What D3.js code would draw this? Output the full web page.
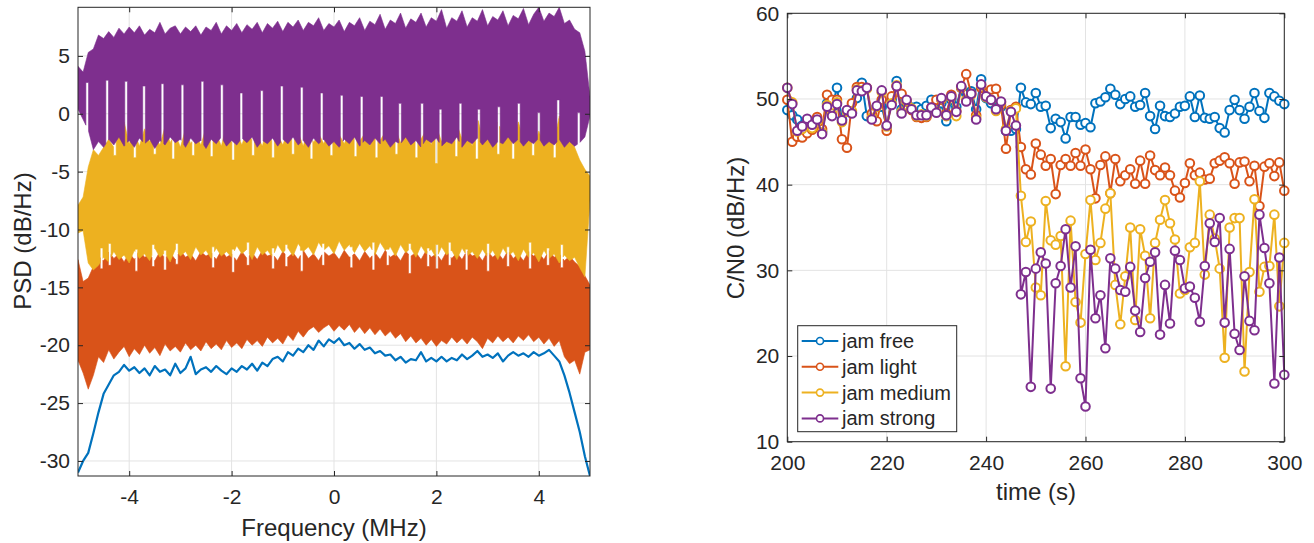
<!DOCTYPE html>
<html>
<head>
<meta charset="utf-8">
<title>PSD and C/N0</title>
<script src="https://d3js.org/d3.v7.min.js"></script>
<style>
body { margin: 0; background: #fff; }
text { font-family: "Liberation Sans", Arial, Helvetica, sans-serif; fill: #262626; }
</style>
</head>
<body>
<script>
// ---------- left panel: PSD, sampled every 0.1 MHz from -5 to 5 ----------
var freqStart = -5, freqStep = 0.1;
var freq = d3.range(101).map(i => +(freqStart + i * freqStep).toFixed(2));

var psdFree = [-31.0,-30.0,-29.3,-27.6,-25.8,-24.2,-23.4,-22.6,-22.3,-21.7,
  -22.2,-21.9,-22.4,-22.0,-22.6,-21.8,-22.3,-22.1,-22.6,-21.6,
  -22.4,-22.0,-21.0,-22.5,-22.1,-21.9,-22.3,-21.8,-22.2,-22.5,
  -22.0,-22.3,-21.8,-22.1,-21.6,-22.2,-21.5,-21.8,-21.2,-21.0,
  -21.4,-20.6,-20.9,-20.3,-20.6,-20.0,-20.4,-19.6,-20.1,-19.5,
  -19.8,-19.4,-20.0,-19.8,-20.3,-19.9,-20.4,-20.2,-20.7,-20.5,
  -20.9,-20.8,-21.3,-21.0,-21.5,-21.2,-21.3,-20.6,-21.4,-21.1,
  -21.4,-21.0,-21.4,-21.1,-21.3,-20.8,-21.2,-20.9,-20.5,-21.0,
  -20.8,-21.1,-20.7,-21.4,-20.9,-20.6,-20.9,-20.7,-21.0,-20.6,
  -20.9,-20.7,-20.4,-20.9,-21.4,-22.6,-24.1,-25.8,-27.5,-29.6,-31.3];

var lightHi = [-12.6,-14.5,-14.2,-13.2,-12.3,-12.7,-11.9,-12.5,-12.1,-12.8,
  -12.0,-12.6,-11.8,-12.4,-12.2,-12.7,-11.9,-12.5,-12.0,-12.6,
  -11.8,-12.4,-12.1,-12.7,-11.9,-12.3,-12.0,-12.6,-11.8,-12.4,
  -12.1,-12.7,-11.9,-12.5,-12.0,-12.6,-11.8,-12.3,-12.1,-12.7,
  -11.9,-12.4,-12.0,-12.6,-11.8,-12.5,-12.1,-12.7,-11.9,-12.3,
  -12.0,-12.6,-11.8,-12.4,-12.1,-12.7,-11.9,-12.5,-12.0,-12.6,
  -11.8,-12.4,-12.1,-12.7,-11.9,-12.3,-12.0,-12.6,-11.8,-12.4,
  -12.1,-12.7,-11.9,-12.5,-12.0,-12.6,-11.8,-12.3,-12.1,-12.7,
  -11.9,-12.4,-12.0,-12.6,-11.8,-12.5,-12.1,-12.7,-11.9,-12.3,
  -12.0,-12.6,-11.8,-12.4,-12.1,-12.7,-12.3,-12.8,-13.2,-14.0,-14.8];
var lightLo = [-21.3,-22.4,-23.8,-22.6,-21.0,-21.5,-20.4,-21.2,-20.6,-20.1,
  -21.0,-20.3,-20.8,-20.0,-20.7,-20.2,-20.9,-19.9,-20.5,-20.1,
  -20.6,-19.8,-20.4,-20.0,-20.5,-19.7,-20.3,-19.9,-20.4,-19.6,
  -20.2,-19.8,-20.3,-19.5,-20.0,-19.6,-20.1,-19.3,-19.8,-19.4,
  -19.9,-19.1,-19.6,-18.8,-19.3,-18.7,-18.4,-18.9,-18.5,-18.2,
  -18.8,-18.3,-18.7,-18.2,-18.9,-18.4,-19.0,-18.5,-19.1,-18.6,
  -19.2,-18.8,-19.4,-19.0,-19.7,-19.2,-19.8,-19.4,-20.0,-19.5,
  -20.1,-19.6,-19.9,-19.3,-19.8,-19.4,-19.9,-19.3,-19.7,-20.3,
  -19.4,-19.8,-19.2,-19.7,-19.3,-19.8,-19.2,-19.6,-19.1,-19.7,
  -19.3,-19.9,-19.4,-20.1,-19.6,-21.0,-21.6,-21.3,-22.5,-20.6,-20.4];

var mediumHi = [-7.9,-7.2,-4.6,-3.1,-3.6,-2.9,-2.2,-2.9,-1.5,-0.7,
  -2.6,-1.6,-2.8,-1.3,-2.4,-1.9,-2.7,-1.1,-2.5,-1.7,
  -2.9,-1.3,-2.6,-1.8,-2.7,-1.2,-2.3,-1.7,-2.8,-1.0,
  -2.5,-1.6,-2.7,-1.4,-2.3,-1.9,-2.8,-1.1,-2.6,-1.8,
  -2.7,-1.5,-2.4,-1.6,-2.8,-1.2,-2.5,-1.7,-2.6,-1.4,
  -2.3,-1.8,-2.6,-1.5,-0.1,-2.4,-1.7,-2.8,-1.0,-2.3,
  -1.6,-2.7,-1.3,-2.5,-1.8,-2.6,-0.1,-2.2,-1.4,-2.7,
  -1.1,-2.4,-1.7,-2.6,-0.9,-2.2,-1.5,-2.8,-0.3,-2.1,
  -1.6,-2.5,-0.4,-2.3,-1.2,-2.7,-0.7,-2.2,-1.6,-2.9,
  -1.5,-2.6,-0.9,-2.4,-0.2,-2.0,-1.9,-2.9,-4.0,-4.8,-5.4];
var mediumLo = [-10.3,-10.1,-12.9,-13.5,-13.1,-12.4,-12.8,-11.9,-12.6,-12.2,
  -12.9,-11.8,-12.5,-12.1,-12.7,-11.6,-12.4,-12.0,-12.8,-11.7,
  -12.3,-11.9,-12.6,-11.5,-12.2,-11.8,-12.5,-11.6,-12.3,-11.9,
  -12.4,-11.4,-12.1,-11.7,-12.6,-11.5,-12.2,-11.8,-12.4,-11.3,
  -12.0,-11.6,-12.3,-11.2,-11.9,-11.5,-12.2,-11.1,-11.8,-11.4,
  -12.1,-11.0,-11.8,-11.3,-12.0,-11.2,-11.9,-11.4,-12.2,-11.1,
  -11.8,-11.5,-12.3,-11.3,-12.0,-11.6,-12.4,-11.4,-12.1,-11.7,
  -12.5,-11.5,-12.2,-11.8,-12.6,-11.6,-12.3,-11.9,-12.5,-11.7,
  -12.4,-11.8,-12.6,-11.6,-12.3,-11.9,-12.7,-11.7,-12.4,-12.0,
  -12.8,-11.8,-12.5,-12.1,-12.9,-12.2,-12.7,-12.4,-13.3,-14.1,-7.5];

var strongHi = [4.1,3.6,5.3,5.6,6.8,6.5,7.1,6.6,7.4,6.9,
  7.5,7.0,7.6,6.8,7.3,7.0,7.9,6.9,7.4,7.6,
  6.9,7.5,7.1,7.6,6.8,7.5,7.2,7.9,6.9,7.6,
  7.2,7.8,7.0,7.7,7.3,7.9,7.0,7.8,7.4,8.0,
  7.1,7.9,7.5,8.1,7.2,7.9,7.6,8.3,7.2,7.8,
  7.5,8.1,7.1,7.9,7.6,8.3,7.2,8.0,7.7,8.6,
  7.3,8.1,7.8,8.7,7.4,8.2,7.9,8.7,7.5,8.3,
  8.0,9.0,7.4,8.3,8.0,8.9,7.5,8.3,8.0,9.0,
  7.6,8.4,8.1,8.9,7.6,8.5,8.2,9.1,7.7,8.6,
  9.2,8.0,8.7,8.4,9.2,7.8,8.1,7.3,7.0,5.4,1.5];
var strongLo = [0.4,-0.5,-1.4,-3.1,-2.4,-2.9,-2.2,-2.7,-2.0,-2.8,
  -2.3,-2.9,-2.1,-2.6,-2.2,-3.0,-2.3,-2.7,-2.0,-2.5,
  -2.2,-2.9,-2.1,-2.6,-2.3,-3.0,-2.2,-2.6,-2.0,-2.8,
  -2.3,-2.7,-2.1,-2.5,-2.0,-2.9,-2.3,-2.6,-2.1,-2.8,
  -2.2,-2.6,-2.0,-2.7,-2.3,-2.9,-2.1,-2.6,-2.2,-2.8,
  -2.4,-2.9,-2.2,-2.6,-2.0,-2.8,-2.3,-2.7,-2.1,-2.6,
  -2.2,-2.9,-2.4,-2.6,-2.0,-2.7,-2.3,-2.9,-2.2,-2.5,
  -2.1,-2.8,-2.4,-2.6,-2.0,-2.9,-2.3,-2.6,-2.1,-2.7,
  -2.2,-2.9,-2.4,-2.6,-2.0,-2.6,-2.2,-2.8,-2.3,-2.6,
  -2.1,-2.8,-2.4,-2.7,-2.2,-2.9,-2.4,-2.8,-2.5,-2.0,-0.2];

// narrow gaps in the bands: [frequency MHz, level dB/Hz]
var strongLoNotches = [[-4.82,2.7],[-4.43,2.9],[-4.06,2.8],[-3.71,2.4],[-3.35,2.6],[-2.96,2.5],
  [-2.57,2.8],[-2.19,2.5],[-1.81,1.8],[-1.41,2.0],[-1.02,2.4],[-0.63,2.3],[-0.24,1.8],
  [0.15,1.6],[0.54,1.5],[0.93,1.5],[1.29,0.9],[1.72,0.9],[2.08,0.4],[2.47,0.9],
  [2.83,0.4],[3.22,0.6],[3.61,0.9],[4.00,0.1],[4.38,1.2],[4.78,0.1]];
var mediumHiNotches = [[-4.28,-3.6],[-3.89,-3.8],[-3.50,-3.5],[-3.14,-3.9],[-2.75,-3.6],
  [-2.39,-3.7],[-1.97,-4.0],[-1.58,-3.6],[-1.19,-3.8],[-0.80,-3.5],[-0.44,-3.9],[-0.05,-3.6],
  [0.42,-3.7],[0.83,-3.8],[1.22,-3.5],[1.61,-3.8],[2.00,-4.3],[2.39,-3.7],[2.79,-3.9],
  [3.21,-3.5],[3.50,-3.9],[3.89,-3.6],[4.31,-3.8]];
var gapFreq = [-4.54,-4.38,-3.86,-3.53,-3.30,-3.07,-2.36,-1.97,-1.68,-1.19,-0.93,-0.63,-0.21,
  0.34,0.77,1.05,1.48,1.84,2.01,2.26,2.59,3.01,3.40,3.83,4.18,4.45];
var gapMediumLo = [-11.6,-11.2,-11.7,-11.3,-11.8,-11.2,-11.5,-11.7,-11.1,-11.6,-11.3,-11.8,-11.2,
  -11.5,-11.1,-11.7,-11.2,-11.6,-11.3,-11.1,-11.7,-11.2,-11.5,-11.1,-11.6,-11.3];
var gapLightHi = [-13.4,-13.1,-13.6,-13.2,-13.5,-13.0,-13.3,-13.7,-13.1,-13.4,-13.2,-13.6,-13.1,
  -13.3,-13.5,-13.1,-13.8,-13.2,-13.4,-13.1,-13.5,-13.6,-13.2,-13.4,-13.1,-13.3];

// ---------- right panel: C/N0, one value per second 200..300 ----------
var times = d3.range(200, 301);
var cnFree = [48.7,48.1,47.6,46.9,47.3,47.0,47.5,46.2,49.5,49.0,
  51.3,47.6,48.6,48.4,50.1,51.9,48.0,47.8,49.1,49.1,
  46.8,49.9,52.1,48.8,49.1,49.0,49.1,48.8,49.2,49.9,
  49.0,49.5,47.4,49.9,49.1,51.3,50.6,50.9,48.8,52.3,
  50.1,49.5,48.9,49.1,46.3,46.3,46.5,51.3,49.6,49.4,
  50.7,49.1,49.2,46.6,47.7,47.3,45.4,47.9,47.9,47.0,
  47.2,46.7,49.5,49.7,50.2,51.2,50.5,49.4,50.0,50.3,
  49.1,49.3,50.7,48.0,46.5,49.2,48.0,47.9,48.3,49.1,
  49.2,50.3,47.9,50.4,47.8,47.7,47.9,46.6,46.1,48.7,
  49.9,48.7,47.7,49.1,50.7,48.6,47.8,50.7,50.3,49.8,49.4];
var cnLight = [49.9,45.0,45.6,45.5,46.0,46.4,47.9,46.5,50.5,49.9,
  49.9,45.3,44.3,49.5,51.4,51.4,51.3,48.3,47.4,49.9,
  46.3,50.3,51.5,50.6,49.7,48.7,47.9,47.8,47.9,49.0,
  49.9,49.9,48.3,50.5,48.6,51.3,52.9,50.6,48.1,51.3,
  50.3,51.1,51.2,49.3,44.2,48.7,49.1,44.4,41.8,41.2,
  44.8,43.5,42.2,43.0,38.9,42.3,43.0,42.2,43.7,42.2,
  44.1,41.8,38.4,42.3,43.3,39.0,43.0,40.4,41.1,41.8,
  40.1,42.8,40.1,43.4,41.7,41.1,42.0,41.1,39.3,38.5,
  40.2,42.5,41.1,41.4,40.6,40.7,42.5,42.8,43.2,42.5,
  40.1,42.6,42.7,40.4,42.2,37.5,42.1,42.5,41.0,42.6,39.3];
var cnMedium = [51.3,49.6,46.2,46.5,47.0,46.6,47.4,46.1,49.3,48.3,
  49.6,47.3,48.5,48.6,51.1,51.0,51.2,47.8,49.1,50.8,
  46.8,49.5,51.6,48.5,49.8,48.9,48.0,48.2,48.0,48.8,
  48.5,50.0,48.0,50.2,48.0,51.4,49.9,50.5,47.8,51.6,
  50.2,49.9,48.6,49.6,46.5,48.6,48.9,38.7,33.3,35.7,
  28.0,27.1,38.1,33.5,33.0,34.0,18.8,35.8,26.3,23.9,
  31.9,38.2,31.2,33.2,37.2,39.0,28.3,23.7,29.3,35.0,
  24.2,34.8,31.7,24.4,33.2,35.9,38.2,35.5,33.6,27.3,
  27.7,32.7,33.2,40.4,29.5,36.5,33.7,30.2,19.8,35.0,
  36.1,36.1,18.2,29.8,38.3,27.5,30.4,30.5,36.5,25.8,33.2];
var cnStrong = [51.3,49.4,46.3,46.8,47.7,47.0,47.6,45.9,49.1,48.0,
  49.4,47.5,48.7,48.3,51.0,50.9,51.3,47.6,49.2,51.0,
  46.9,49.3,51.5,48.3,49.9,48.8,48.1,48.1,48.1,49.0,
  48.4,50.1,48.1,50.3,48.5,51.5,49.7,50.6,47.6,51.7,
  50.3,49.9,48.8,49.7,46.3,48.5,46.9,27.2,29.8,16.4,
  30.2,32.1,30.8,16.2,28.5,30.5,34.8,28.0,32.8,17.4,
  14.1,32.4,24.4,27.1,20.9,31.4,30.2,27.7,27.5,30.4,
  25.3,22.8,29.1,31.0,32.1,22.5,28.3,23.8,32.3,31.2,
  27.9,28.1,26.8,24.0,30.5,35.5,33.3,36.1,23.9,32.5,
  22.6,20.7,29.3,24.1,23.0,36.5,32.6,28.5,16.8,31.5,17.8];

var seriesNames = ["jam free", "jam light", "jam medium", "jam strong"];
var colors = ["#0072BD", "#D95319", "#EDB120", "#7E2F8E"];

var psdTicksX = [-4, -2, 0, 2, 4];
var psdTicksY = [-30, -25, -20, -15, -10, -5, 0, 5];
var cnTicksX = [200, 220, 240, 260, 280, 300];
var cnTicksY = [10, 20, 30, 40, 50, 60];

// ---------- drawing ----------
var svg = d3.select("body").append("svg")
    .attr("width", 1314)
    .attr("height", 543);

function drawGrid(g, x, y, xt, yt) {
    var x0 = x.range()[0], x1 = x.range()[1], y0 = y.range()[0], y1 = y.range()[1];
    var grid = g.append("g").attr("stroke", "#e3e3e3").attr("stroke-width", 1);
    xt.forEach(v => grid.append("line").attr("x1", x(v)).attr("x2", x(v)).attr("y1", y0).attr("y2", y1));
    yt.forEach(v => grid.append("line").attr("x1", x0).attr("x2", x1).attr("y1", y(v)).attr("y2", y(v)));
}

function drawAxes(g, x, y, xt, yt) {
    var x0 = x.range()[0], x1 = x.range()[1], y0 = y.range()[0], y1 = y.range()[1];
    var fmt = d => String(d);   // plain hyphen minus, as in the original
    var style = a => {
        a.select(".domain").remove();
        a.selectAll("line").attr("stroke", "#262626");
        a.selectAll("text").attr("font-size", 21).attr("fill", "#262626").attr("font-family", null);
    };
    g.append("g").attr("transform", `translate(0,${y0})`)
        .call(d3.axisBottom(x).tickValues(xt).tickFormat(fmt).tickSize(-5).tickPadding(13)).call(style);
    g.append("g").attr("transform", `translate(0,${y1})`)
        .call(d3.axisTop(x).tickValues(xt).tickSize(-5).tickFormat("")).call(style);
    g.append("g").attr("transform", `translate(${x0},0)`)
        .call(d3.axisLeft(y).tickValues(yt).tickFormat(fmt).tickSize(-5).tickPadding(8)).call(style);
    g.append("g").attr("transform", `translate(${x1},0)`)
        .call(d3.axisRight(y).tickValues(yt).tickSize(-5).tickFormat("")).call(style);
    g.append("rect")
        .attr("x", x0).attr("y", y1).attr("width", x1 - x0).attr("height", y0 - y1)
        .attr("fill", "none").attr("stroke", "#262626").attr("stroke-width", 1);
}

// left panel
var xF = d3.scaleLinear().domain([-5, 5]).range([78, 590]);
var yP = d3.scaleLinear().domain([-31.3, 9.2]).range([476, 7.3]);
var left = svg.append("g");
drawGrid(left, xF, yP, psdTicksX, psdTicksY);

svg.append("clipPath").attr("id", "clipL").append("rect")
    .attr("x", 78).attr("y", 7.3).attr("width", 512).attr("height", 468.7);
var plotL = left.append("g").attr("clip-path", "url(#clipL)");

function valueAt(arr, f) {
    var p = (f - freqStart) / freqStep, i = Math.max(0, Math.min(arr.length - 2, Math.floor(p))), t = p - i;
    return arr[i] * (1 - t) + arr[i + 1] * t;
}

function edge(arr, notches) {
    var w = 0.026;
    var pts = freq.map((f, i) => [f, arr[i]])
        .filter(p => !notches.some(n => Math.abs(p[0] - n[0]) <= w));
    notches.forEach(n => {
        pts.push([n[0] - w, valueAt(arr, n[0] - w)], [n[0] - w, n[1]], [n[0] + w, n[1]], [n[0] + w, valueAt(arr, n[0] + w)]);
    });
    return pts.sort((a, b) => a[0] - b[0]);
}

var lineF = d3.line().x(d => xF(d[0])).y(d => yP(d[1]));

plotL.append("path")
    .attr("d", lineF(freq.map((f, i) => [f, psdFree[i]])))
    .attr("fill", "none").attr("stroke", colors[0]).attr("stroke-width", 2.2)
    .attr("stroke-linejoin", "round");

var bands = [
    { hi: lightHi, lo: lightLo, hiN: gapFreq.map((f, i) => [f, gapLightHi[i]]), loN: [], c: colors[1] },
    { hi: mediumHi, lo: mediumLo, hiN: mediumHiNotches, loN: gapFreq.map((f, i) => [f, gapMediumLo[i]]), c: colors[2] },
    { hi: strongHi, lo: strongLo, hiN: [], loN: strongLoNotches, c: colors[3] }
];
bands.forEach(b => {
    var top = edge(b.hi, b.hiN), bottom = edge(b.lo, b.loN).reverse();
    plotL.append("path")
        .attr("d", lineF(top.concat(bottom)) + "Z")
        .attr("fill", b.c).attr("stroke", b.c).attr("stroke-width", 0.6);
});
drawAxes(left, xF, yP, psdTicksX, psdTicksY);

left.append("text")
    .attr("x", 334).attr("y", 536).attr("text-anchor", "middle").attr("font-size", 24)
    .text("Frequency (MHz)");
left.append("text")
    .attr("transform", "translate(31,241) rotate(-90)").attr("text-anchor", "middle").attr("font-size", 24)
    .text("PSD (dB/Hz)");

// right panel
var xT = d3.scaleLinear().domain([200, 300]).range([787.3, 1284.3]);
var yC = d3.scaleLinear().domain([10, 60]).range([441.7, 13.3]);
var right = svg.append("g");
drawGrid(right, xT, yC, cnTicksX, cnTicksY);

var lineT = d3.line().x((d, i) => xT(times[i])).y(d => yC(d));
[cnFree, cnLight, cnMedium, cnStrong].forEach((s, k) => {
    var g = right.append("g");
    g.append("path").attr("d", lineT(s))
        .attr("fill", "none").attr("stroke", colors[k]).attr("stroke-width", 2)
        .attr("stroke-linejoin", "round");
    g.selectAll("circle").data(s).join("circle")
        .attr("cx", (d, i) => xT(times[i])).attr("cy", d => yC(d)).attr("r", 4.3)
        .attr("fill", "#fff").attr("stroke", colors[k]).attr("stroke-width", 2);
});
drawAxes(right, xT, yC, cnTicksX, cnTicksY);

right.append("text")
    .attr("x", 1036).attr("y", 500).attr("text-anchor", "middle").attr("font-size", 24)
    .text("time (s)");
right.append("text")
    .attr("transform", "translate(744,228) rotate(-90)").attr("text-anchor", "middle").attr("font-size", 24)
    .text("C/N0 (dB/Hz)");

// legend
var leg = right.append("g");
leg.append("rect").attr("x", 797.7).attr("y", 325.7).attr("width", 159).attr("height", 106)
    .attr("fill", "#fff").attr("stroke", "#262626").attr("stroke-width", 1);
seriesNames.forEach((name, k) => {
    var yy = 341 + k * 25.8;
    leg.append("line").attr("x1", 801.7).attr("x2", 838.3).attr("y1", yy).attr("y2", yy)
        .attr("stroke", colors[k]).attr("stroke-width", 2);
    leg.append("circle").attr("cx", 820).attr("cy", yy).attr("r", 3.5)
        .attr("fill", "#fff").attr("stroke", colors[k]).attr("stroke-width", 1.6);
    leg.append("text").attr("x", 842).attr("y", yy).attr("dy", "0.35em").attr("font-size", 20)
        .text(name);
});
</script>
</body>
</html>
